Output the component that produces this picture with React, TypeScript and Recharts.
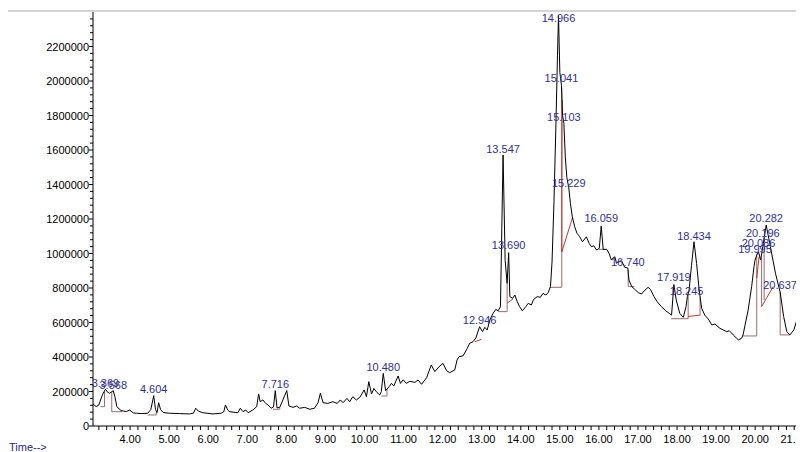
import React from 'react';
import { LineChart, Line, XAxis, YAxis, ReferenceLine, ReferenceDot } from 'recharts';

// retention time (min), abundance
const trace: [number, number][] = [
  [3.05, 128000], [3.13, 112000], [3.2, 122000], [3.26, 162000], [3.3, 185000], [3.369, 213000],
  [3.42, 197000], [3.47, 190000], [3.52, 197000], [3.568, 205000], [3.61, 170000], [3.66, 112000],
  [3.77, 89000], [3.9, 84000], [3.99, 92000], [4.08, 76000], [4.16, 74000], [4.3, 72000],
  [4.45, 74000], [4.53, 95000], [4.604, 176000], [4.65, 95000], [4.69, 78000], [4.73, 135000],
  [4.78, 95000], [4.85, 78000], [5.01, 74000], [5.27, 72000], [5.52, 70000], [5.62, 74000],
  [5.68, 103000], [5.75, 86000], [5.86, 77000], [6.12, 70000], [6.33, 74000], [6.4, 84000],
  [6.44, 122000], [6.5, 92000], [6.55, 83000], [6.76, 77000], [6.82, 103000], [6.89, 83000],
  [6.96, 93000], [7.02, 77000], [7.14, 93000], [7.24, 112000], [7.29, 186000], [7.33, 141000],
  [7.4, 151000], [7.47, 131000], [7.53, 122000], [7.61, 103000], [7.67, 110000], [7.716, 205000],
  [7.76, 105000], [7.83, 108000], [7.91, 151000], [8.01, 205000], [8.065, 116000], [8.17, 108000],
  [8.26, 116000], [8.34, 103000], [8.47, 108000], [8.6, 97000], [8.72, 103000], [8.81, 135000],
  [8.87, 190000], [8.94, 135000], [9.06, 131000], [9.19, 141000], [9.3, 131000], [9.38, 151000],
  [9.45, 135000], [9.55, 160000], [9.62, 141000], [9.7, 170000], [9.79, 151000], [9.88, 166000],
  [9.99, 209000], [10.05, 170000], [10.11, 257000], [10.18, 186000], [10.24, 218000], [10.3, 199000],
  [10.39, 180000], [10.43, 200000], [10.48, 305000], [10.54, 205000], [10.63, 228000], [10.69, 247000],
  [10.75, 232000], [10.86, 290000], [10.92, 247000], [10.99, 268000], [11.07, 247000], [11.16, 259000],
  [11.29, 253000], [11.37, 267000], [11.46, 242000], [11.59, 280000], [11.71, 354000], [11.8, 315000],
  [11.91, 344000], [12.01, 363000], [12.1, 321000], [12.18, 309000], [12.31, 325000], [12.37, 383000],
  [12.42, 402000], [12.52, 406000], [12.63, 450000], [12.69, 479000], [12.78, 489000], [12.85, 510000],
  [12.946, 576000], [13.02, 547000], [13.08, 572000], [13.14, 557000], [13.21, 615000], [13.29, 653000],
  [13.36, 676000], [13.42, 668000], [13.48, 692000], [13.547, 1571000], [13.6, 960000], [13.65, 827000],
  [13.69, 1005000], [13.72, 750000], [13.79, 740000], [13.85, 759000], [13.91, 721000], [13.97, 692000],
  [14.04, 668000], [14.13, 692000], [14.19, 711000], [14.27, 701000], [14.33, 734000], [14.42, 750000],
  [14.5, 746000], [14.57, 769000], [14.64, 759000], [14.7, 773000], [14.76, 808000], [14.8, 950000],
  [14.85, 1300000], [14.9, 1750000], [14.94, 2150000], [14.966, 2380000], [15.0, 2050000], [15.041, 1975000],
  [15.07, 1800000], [15.103, 1755000], [15.14, 1560000], [15.18, 1440000], [15.229, 1380000], [15.27, 1291000],
  [15.32, 1213000], [15.38, 1155000], [15.44, 1117000], [15.51, 1097000], [15.58, 1068000], [15.68, 1097000],
  [15.75, 1059000], [15.81, 1039000], [15.87, 1045000], [15.94, 1020000], [16.01, 1030000], [16.059, 1159000],
  [16.11, 1024000], [16.2, 1024000], [16.26, 1001000], [16.32, 962000], [16.35, 972000], [16.41, 981000],
  [16.45, 943000], [16.49, 952000], [16.58, 958000], [16.66, 920000], [16.74, 916000], [16.77, 846000],
  [16.84, 808000], [16.92, 792000], [17.01, 773000], [17.09, 765000], [17.18, 788000], [17.26, 804000],
  [17.32, 792000], [17.41, 750000], [17.49, 721000], [17.6, 692000], [17.71, 668000], [17.8, 653000],
  [17.86, 643000], [17.919, 820000], [17.98, 730000], [18.07, 653000], [18.16, 630000], [18.23, 692000],
  [18.265, 750000], [18.31, 790000], [18.37, 930000], [18.434, 1068000], [18.5, 943000], [18.567, 788000],
  [18.63, 682000], [18.71, 643000], [18.8, 620000], [18.89, 586000], [18.97, 591000], [19.1, 566000],
  [19.27, 547000], [19.34, 552000], [19.44, 528000], [19.57, 499000], [19.65, 508000], [19.69, 528000],
  [19.82, 672000], [19.91, 808000], [19.97, 923000], [19.995, 960000], [20.04, 990000], [20.086, 1010000],
  [20.14, 962000], [20.196, 1040000], [20.282, 1165000], [20.39, 1039000], [20.52, 885000], [20.637, 778000],
  [20.73, 634000], [20.81, 547000], [20.89, 528000], [20.99, 557000], [21.08, 624000], [21.13, 643000],
  [21.22, 605000], [21.25, 595000],
];

// peak labels and the abundance level their text sits at
const peakNames = [
  '3.369', '3.568', '4.604', '7.716', '10.480', '12.946', '13.547', '13.690', '14.966', '15.041', '15.103',
  '15.229', '16.059', '16.740', '17.919', '18.245', '18.434', '19.995', '20.086', '20.196', '20.282', '20.637',
];
const peakLabelLevel = [
  251000, 238000, 213000, 242000, 344000, 614000, 1604000, 1049000, 2363000, 2016000, 1793000,
  1407000, 1204000, 952000, 865000, 784000, 1101000, 1024000, 1063000, 1121000, 1204000, 817000,
];

// integration baselines / drop lines: [t1, a1, t2, a2]
const dropLines: number[][] = [
  [3.24, 112000, 3.345, 112000], [3.345, 112000, 3.345, 200000],
  [3.53, 83000, 3.53, 200000], [3.53, 83000, 3.79, 83000],
  [4.45, 64000, 4.67, 64000], [4.67, 64000, 4.67, 85000],
  [7.655, 97000, 7.83, 97000], [7.83, 97000, 7.83, 108000],
  [10.43, 174000, 10.575, 174000], [10.575, 174000, 10.575, 215000],
  [13.42, 663000, 13.65, 663000], [13.65, 663000, 13.65, 827000],
  [14.74, 804000, 15.05, 804000], [15.05, 804000, 15.05, 1960000],
  [16.0, 1024000, 16.15, 1024000],
  [16.75, 808000, 16.75, 905000], [16.75, 808000, 16.91, 808000],
  [17.85, 622000, 18.285, 622000], [18.285, 622000, 18.285, 760000],
  [18.59, 643000, 18.59, 745000],
  [19.69, 522000, 20.04, 522000], [20.04, 522000, 20.04, 1000000],
  [20.165, 692000, 20.165, 975000], [20.23, 730000, 20.23, 1100000],
  [20.64, 528000, 20.64, 778000], [20.64, 528000, 20.89, 528000],
];
const splitLines: number[][] = [
  [12.83, 489000, 13.0, 503000],
  [13.65, 712000, 13.8, 736000],
  [15.05, 1009000, 15.33, 1212000], [15.05, 1009000, 15.055, 1890000],
  [18.285, 635000, 18.59, 643000],
  [20.04, 858000, 20.1, 981000],
  [20.165, 692000, 20.46, 808000],
];

const xTicks = Array.from({ length: 91 }, (_, i) => Math.round((3.2 + i * 0.2) * 10) / 10);
const yTicks = Array.from({ length: 60 }, (_, i) => i * 40000);

const data = trace.map(([t, v]) => ({ t, v }));

const FONT = 'Arial, "Liberation Sans", sans-serif';

const XTick = (props: any) => {
  const { x, y, payload } = props;
  const v = payload.value;
  const major = Math.abs(v - Math.round(v)) < 1e-6;
  return (
    <g>
      <line x1={x} y1={y} x2={x} y2={y + 4} stroke="#000" strokeWidth={1} />
      {major && (
        <text x={x} y={y + 17} textAnchor="middle" fontSize={11} fontFamily={FONT} fill="#000">
          {v.toFixed(2)}
        </text>
      )}
    </g>
  );
};

const YTick = (props: any) => {
  const { x, y, payload } = props;
  const v = payload.value;
  const major = v % 200000 === 0;
  return (
    <g>
      <line x1={x - (major ? 4 : 3)} y1={y} x2={x} y2={y} stroke="#000" strokeWidth={1} />
      {major && (
        <text x={x - 4} y={y + 4} textAnchor="end" fontSize={11} fontFamily={FONT} fill="#000">
          {v}
        </text>
      )}
    </g>
  );
};

export default function App() {
  return (
    <div style={{ position: 'relative', width: 796, height: 444 }}>
      <div style={{ position: 'absolute', left: 0, top: 2, width: 796, height: 2, background: '#d4d4d4' }} />
      <LineChart width={796} height={444} data={data} margin={{ top: 4, right: 0, bottom: 0, left: 0 }}>
        <XAxis
          type="number"
          dataKey="t"
          domain={[3.05, 21.25]}
          allowDataOverflow
          ticks={xTicks}
          interval={0}
          tickSize={0}
          tickMargin={0}
          tick={(p: any) => <XTick {...p} />}
          height={26}
          stroke="#000"
        />
        <YAxis
          type="number"
          domain={[0, 2400000]}
          allowDataOverflow
          ticks={yTicks}
          interval={0}
          tickSize={0}
          tickMargin={0}
          tick={(p: any) => <YTick {...p} />}
          width={85}
          stroke="#000"
        />
        {dropLines.map(([a, b, c, d], i) => (
          <ReferenceLine
            key={`d${i}`}
            segment={[{ x: a, y: b }, { x: c, y: d }]}
            stroke="#9a6b6b"
            strokeWidth={1}
          />
        ))}
        {splitLines.map(([a, b, c, d], i) => (
          <ReferenceLine
            key={`s${i}`}
            segment={[{ x: a, y: b }, { x: c, y: d }]}
            stroke="#c0392b"
            strokeWidth={1}
          />
        ))}
        <Line
          type="linear"
          dataKey="v"
          stroke="#000"
          strokeWidth={1}
          dot={false}
          isAnimationActive={false}
        />
        {peakNames.map((name, i) => (
          <ReferenceDot
            key={name}
            x={Number(name)}
            y={peakLabelLevel[i]}
            r={0}
            fill="none"
            stroke="none"
            label={{ value: name, position: 'center', fill: '#2f2f96', fontSize: 11, fontFamily: FONT }}
          />
        ))}
      </LineChart>
      <div
        style={{
          position: 'absolute',
          left: 1,
          top: 433,
          fontSize: 11,
          lineHeight: '12px',
          fontFamily: FONT,
          color: '#1f1f8a',
        }}
      >
        Time--&gt;
      </div>
    </div>
  );
}
